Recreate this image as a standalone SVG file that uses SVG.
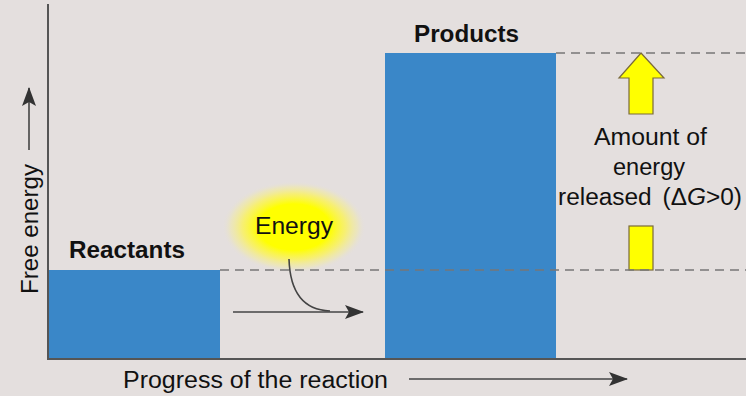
<svg xmlns="http://www.w3.org/2000/svg" width="746" height="396" viewBox="0 0 746 396">
<style>
text{font-family:"Liberation Sans",Arial,sans-serif;fill:#111;}
.lbl{font-size:23.5px;}
.bold{font-size:23px;font-weight:bold;}
.bar{fill:#3a87c8;}
.axis{stroke:#555;stroke-width:2;fill:none;}
.dash{stroke:#777;stroke-width:1.6;stroke-dasharray:9,6;fill:none;}
.arr{stroke:#444;stroke-width:1.6;fill:none;}
.yel{fill:#ffff00;stroke:#7a6a3a;stroke-width:1.2;}
</style>
<defs>
<marker id="ah" viewBox="0 0 19 14" refX="18" refY="7" markerWidth="19" markerHeight="14" markerUnits="userSpaceOnUse" orient="auto">
<path d="M0,0 L19,7 L0,14 L4,7 Z" fill="#333"/>
</marker>
<radialGradient id="glow" cx="0.5" cy="0.5" r="0.5">
<stop offset="0" stop-color="#ffff00"/>
<stop offset="0.5" stop-color="#ffff00"/>
<stop offset="0.72" stop-color="#fbf35a" stop-opacity="0.8"/>
<stop offset="0.88" stop-color="#f3ec9a" stop-opacity="0.45"/>
<stop offset="1" stop-color="#e4dfde" stop-opacity="0"/>
</radialGradient>
</defs>
<rect x="0" y="0" width="746" height="396" fill="#e4dfde"/>
<g id="axes">
<line class="axis" x1="48" y1="4" x2="48" y2="359"/>
<line class="axis" x1="47" y1="359" x2="746" y2="359"/>
</g>
<g id="reactants">
<rect class="bar" x="49" y="270" width="171" height="88"/>
<text class="bold" x="69" y="258" textLength="116" lengthAdjust="spacingAndGlyphs">Reactants</text>
</g>
<g id="products">
<rect class="bar" x="385" y="53" width="171" height="305"/>
<text class="bold" x="414" y="42" textLength="105" lengthAdjust="spacingAndGlyphs">Products</text>
</g>
<g id="energy">
<ellipse cx="294" cy="227" rx="72" ry="46" fill="url(#glow)"/>
<text class="lbl" x="255" y="234" textLength="78" lengthAdjust="spacingAndGlyphs">Energy</text>
</g>
<g id="released">
<path class="yel" d="M641,53 L664,78 L653,78 L653,114 L629,114 L629,78 L619,78 Z"/>
<rect class="yel" x="629" y="226" width="24" height="44"/>
<text class="lbl" x="594" y="145" textLength="113" lengthAdjust="spacingAndGlyphs">Amount of</text>
<text class="lbl" x="613" y="175" textLength="72" lengthAdjust="spacingAndGlyphs">energy</text>
<text class="lbl" x="558" y="205" textLength="184" lengthAdjust="spacingAndGlyphs">released <tspan dx="4">(Δ</tspan><tspan font-style="italic">G</tspan>&gt;0)</text>
</g>
<g id="connectors">
<line class="dash" x1="220" y1="270" x2="746" y2="270"/>
<line class="dash" x1="556" y1="53" x2="746" y2="53"/>
<path class="arr" d="M289,259 C290,292 303,310 330,311"/>
<line class="arr" x1="233" y1="312" x2="363" y2="312" marker-end="url(#ah)"/>
<line class="arr" x1="29" y1="150" x2="29" y2="88" marker-end="url(#ah)"/>
<line class="arr" x1="409" y1="379" x2="627" y2="379" marker-end="url(#ah)"/>
</g>
<g id="axis-labels">
<text class="lbl" transform="translate(38,294) rotate(-90)" textLength="130" lengthAdjust="spacingAndGlyphs">Free energy</text>
<text class="lbl" x="123" y="388" textLength="265" lengthAdjust="spacingAndGlyphs">Progress of the reaction</text>
</g>
</svg>
